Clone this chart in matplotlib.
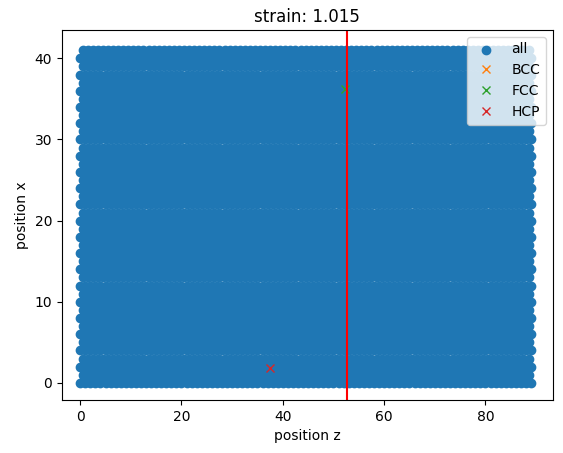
import numpy as np
import matplotlib
matplotlib.use("Agg")
import matplotlib.pyplot as plt

# box extent (position z, position x)
Z_MIN, Z_MAX = 0.0, 89.0
X_MIN, X_MAX = 0.0, 41.2
LATTICE = 1.0          # approximate atom spacing
STRAIN = 1.015
CUT_Z = 52.6           # red vertical line

# identified structure atoms (z, x)
bcc_z, bcc_x = [], []
fcc_z, fcc_x = [52.2], [36.2]
hcp_z, hcp_x = [37.4], [1.9]

# staggered lattice sites filling the box
zs = np.arange(Z_MIN, Z_MAX + 1e-6, LATTICE)
xs = np.arange(X_MIN, X_MAX + 1e-6, LATTICE)
zz, xx = np.meshgrid(zs, xs)
zz[1::2] += LATTICE / 2
mask = zz <= Z_MAX
all_z, all_x = zz[mask], xx[mask]

fig, ax = plt.subplots(figsize=(5.63, 4.53), dpi=100)
fig.subplots_adjust(left=0.11, right=0.982, top=0.934, bottom=0.117)
ax.scatter(all_z, all_x, color="C0", label="all")
ax.plot(bcc_z, bcc_x, "x", color="C1", label="BCC")
ax.plot(fcc_z, fcc_x, "x", color="C2", label="FCC")
ax.plot(hcp_z, hcp_x, "x", color="C3", label="HCP")
ax.axvline(CUT_Z, color="red")
ax.set_xlim(-3.6, 93.3)
ax.set_ylim(-2.1, 43.5)
ax.set_xlabel("position z")
ax.set_ylabel("position x")
ax.set_title(f"strain: {STRAIN}")
ax.legend(loc="upper right")
fig.savefig("out.png")
